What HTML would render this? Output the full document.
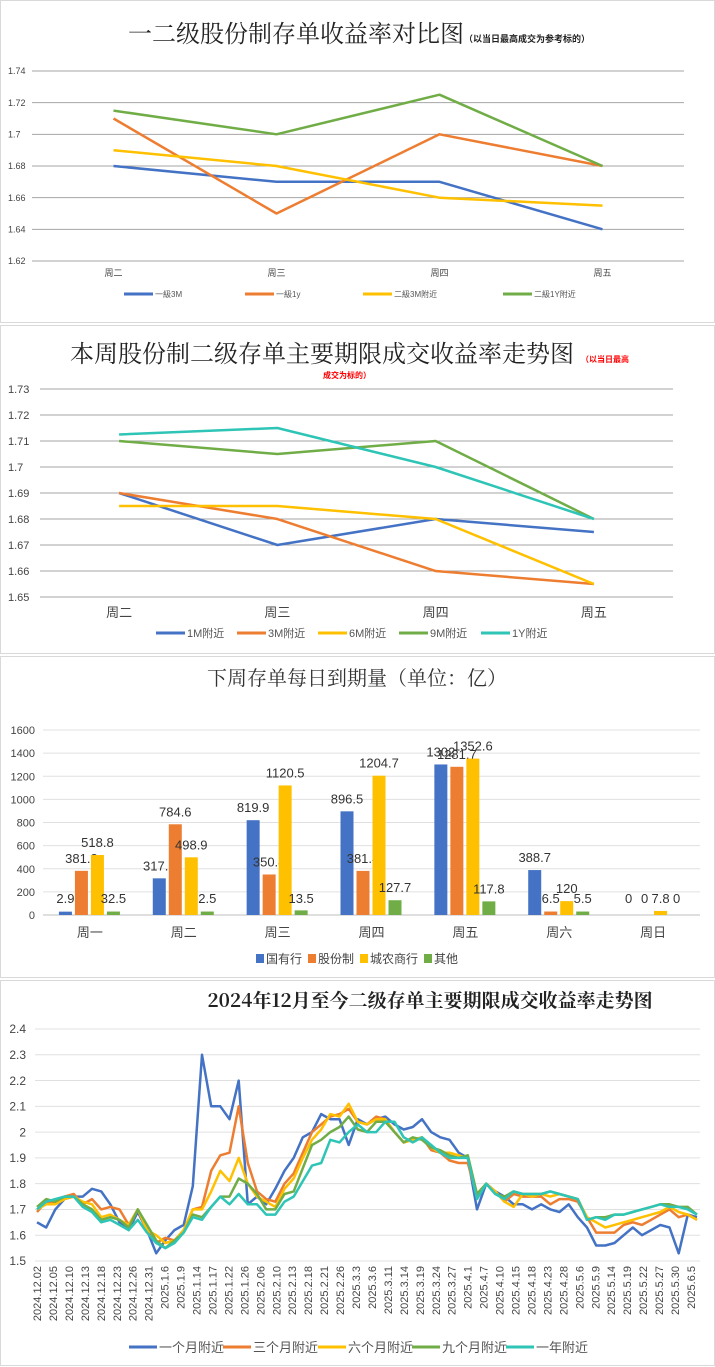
<!DOCTYPE html>
<html><head><meta charset="utf-8">
<style>
html,body{margin:0;padding:0;background:#fff;}
svg{display:block;font-family:"Liberation Sans","Noto Sans CJK SC",sans-serif;}
</style></head>
<body>
<svg id="s" width="715" height="1367" viewBox="0 0 715 1367" xmlns="http://www.w3.org/2000/svg">
<rect x="0.5" y="0.5" width="714" height="322" fill="#fff" stroke="#d9d9d9"/>
<rect x="0.5" y="325.5" width="714" height="328" fill="#fff" stroke="#d9d9d9"/>
<rect x="0.5" y="656.5" width="714" height="321" fill="#fff" stroke="#d9d9d9"/>
<rect x="0.5" y="980.5" width="714" height="385" fill="#fff" stroke="#d9d9d9"/>
<text x="128" y="42" font-size="24" fill="#222" font-family="Noto Serif CJK SC,serif">一二级股份制存单收益率对比图<tspan font-size="9" font-weight="bold" font-family="Noto Sans CJK SC,sans-serif">（以当日最高成交为参考标的）</tspan></text>
<text x="70" y="362" font-size="24" fill="#222" font-family="Noto Serif CJK SC,serif">本周股份制二级存单主要期限成交收益率走势图</text>
<text x="581" y="362" font-size="8" fill="#ff0000" font-weight="bold">（以当日最高</text>
<text x="323" y="378" font-size="8" fill="#ff0000" font-weight="bold">成交为标的）</text>
<text x="357" y="685" font-size="20" fill="#333" text-anchor="middle" font-family="Noto Serif CJK SC,serif">下周存单每日到期量（单位：亿）</text>
<text x="430" y="1007" font-size="19" fill="#222" font-weight="bold" text-anchor="middle" font-family="Noto Serif CJK SC,serif">2024年12月至今二级存单主要期限成交收益率走势图</text>
</svg>
<script>
// ---------- chart 1 data ----------
const c1Cats = ["周二","周三","周四","周五"];
const c1Names = ["一級3M","一級1y","二級3M附近","二級1Y附近"];
const c1A = [1.68,1.67,1.67,1.64];
const c1B = [1.71,1.65,1.70,1.68];
const c1C = [1.69,1.68,1.66,1.655];
const c1D = [1.715,1.70,1.725,1.68];
const c1Ticks = ["1.62","1.64","1.66","1.68","1.7","1.72","1.74"];
// ---------- chart 2 data ----------
const c2Cats = ["周二","周三","周四","周五"];
const c2Names = ["1M附近","3M附近","6M附近","9M附近","1Y附近"];
const c2A = [1.69,1.67,1.68,1.675];
const c2B = [1.69,1.68,1.66,1.655];
const c2C = [1.685,1.685,1.68,1.655];
const c2D = [1.71,1.705,1.71,1.68];
const c2E = [1.7125,1.715,1.70,1.68];
const c2Ticks = ["1.65","1.66","1.67","1.68","1.69","1.7","1.71","1.72","1.73"];
// ---------- chart 3 data ----------
const c3Cats = ["周一","周二","周三","周四","周五","周六","周日"];
const c3Names = ["国有行","股份制","城农商行","其他"];
const c3A = [29,317.1,819.9,896.5,1302,388.7,0];
const c3B = [381.8,784.6,350.4,381.4,1281.7,30,0];
const c3C = [518.8,498.9,1120.5,1204.7,1352.6,120,35];
const c3D = [30,30,40,127.7,117.8,30,0];
const c3LabA = ["2.9","317.1","819.9","896.5","1302","388.7","0"];
const c3LabB = ["381.8","784.6","350.4","381.4","1281.7","6.5","0"];
const c3LabC = ["518.8","498.9","1120.5","1204.7","1352.6","120","7.8"];
const c3LabD = ["32.5","2.5","13.5","127.7","117.8","5.5","0"];
const c3Ticks = [0,200,400,600,800,1000,1200,1400,1600];
// ---------- chart 4 data ----------
const c4Names = ["一个月附近","三个月附近","六个月附近","九个月附近","一年附近"];
const c4Dates = ["2024.12.02","2024.12.05","2024.12.10","2024.12.13","2024.12.18","2024.12.23","2024.12.26","2024.12.31","2025.1.6","2025.1.9","2025.1.14","2025.1.17","2025.1.22","2025.1.26","2025.2.06","2025.2.10","2025.2.13","2025.2.18","2025.2.21","2025.2.26","2025.3.3","2025.3.6","2025.3.11","2025.3.14","2025.3.19","2025.3.24","2025.3.27","2025.4.1","2025.4.7","2025.4.10","2025.4.15","2025.4.18","2025.4.23","2025.4.28","2025.5.6","2025.5.9","2025.5.14","2025.5.19","2025.5.22","2025.5.27","2025.5.30","2025.6.5"];
const c4Ticks = ["1.5","1.6","1.7","1.8","1.9","2","2.1","2.2","2.3","2.4"];
const c4A = [1.65,1.63,1.70,1.74,1.75,1.75,1.78,1.77,1.72,1.65,1.62,1.69,1.62,1.53,1.58,1.62,1.64,1.79,2.30,2.10,2.10,2.05,2.20,1.72,1.75,1.72,1.78,1.85,1.90,1.98,2.00,2.07,2.05,2.05,1.95,2.05,2.03,2.05,2.06,2.03,2.01,2.02,2.05,2.00,1.98,1.97,1.92,1.90,1.70,1.80,1.77,1.75,1.72,1.72,1.70,1.72,1.70,1.69,1.72,1.67,1.63,1.56,1.56,1.57,1.60,1.63,1.60,1.62,1.64,1.63,1.53,1.68,1.67];
const c4B = [1.69,1.73,1.73,1.75,1.76,1.72,1.74,1.70,1.71,1.70,1.64,1.70,1.62,1.57,1.59,1.58,1.62,1.70,1.71,1.85,1.91,1.92,2.10,1.88,1.77,1.74,1.73,1.80,1.84,1.92,2.00,2.03,2.06,2.07,2.09,2.04,2.03,2.06,2.05,2.00,1.96,1.97,1.98,1.93,1.92,1.89,1.88,1.88,1.75,1.80,1.77,1.73,1.76,1.75,1.75,1.75,1.72,1.74,1.74,1.73,1.67,1.61,1.61,1.61,1.64,1.65,1.64,1.66,1.68,1.70,1.67,1.68,1.66];
const c4C = [1.70,1.72,1.72,1.74,1.75,1.73,1.72,1.67,1.68,1.66,1.64,1.70,1.62,1.60,1.57,1.58,1.62,1.70,1.70,1.77,1.85,1.81,1.90,1.80,1.75,1.73,1.71,1.78,1.82,1.90,1.97,2.01,2.07,2.06,2.11,2.04,2.03,2.05,2.05,2.00,1.96,1.97,1.98,1.94,1.92,1.92,1.91,1.90,1.76,1.80,1.77,1.73,1.71,1.76,1.75,1.76,1.75,1.76,1.75,1.74,1.67,1.65,1.63,1.64,1.65,1.66,1.67,1.68,1.69,1.71,1.69,1.68,1.66];
const c4D = [1.71,1.74,1.73,1.75,1.75,1.72,1.70,1.66,1.67,1.66,1.63,1.70,1.64,1.58,1.55,1.58,1.61,1.68,1.67,1.71,1.75,1.75,1.82,1.80,1.76,1.70,1.70,1.76,1.77,1.86,1.95,1.97,2.00,2.02,2.06,2.01,2.00,2.04,2.04,2.00,1.96,1.98,1.97,1.94,1.93,1.91,1.90,1.91,1.76,1.80,1.76,1.75,1.77,1.76,1.76,1.76,1.77,1.76,1.75,1.74,1.66,1.67,1.67,1.68,1.68,1.69,1.70,1.71,1.72,1.72,1.71,1.71,1.68];
const c4E = [1.70,1.73,1.74,1.75,1.75,1.71,1.69,1.65,1.66,1.64,1.62,1.66,1.61,1.57,1.55,1.57,1.61,1.67,1.66,1.71,1.75,1.72,1.76,1.72,1.72,1.68,1.68,1.73,1.75,1.81,1.87,1.88,1.97,1.96,2.00,2.03,2.00,2.00,2.04,2.04,1.98,1.96,1.98,1.95,1.92,1.90,1.90,1.90,1.74,1.80,1.76,1.74,1.77,1.76,1.76,1.76,1.77,1.76,1.75,1.74,1.66,1.67,1.66,1.68,1.68,1.69,1.70,1.71,1.72,1.71,1.71,1.70,1.68];

const NS = "http://www.w3.org/2000/svg";
const svg = document.getElementById("s");
function mk(tag, attrs, txt){
  const e = document.createElementNS(NS, tag);
  for (const k in attrs) e.setAttribute(k, attrs[k]);
  if (txt !== undefined) e.textContent = txt;
  svg.appendChild(e);
  return e;
}
const BLUE="#4472c4", ORANGE="#ed7d31", YELLOW="#ffc000", GREEN="#70ad47", TEAL="#2ec4b6";

function lineChart(o){
  const ys = v => o.y0 - (v - o.vmin) / (o.vmax - o.vmin) * (o.y0 - o.y1);
  o.ticks.forEach((t) => {
    const y = ys(parseFloat(t));
    const g = mk("line",{x1:o.x0,x2:o.x1,y1:y,y2:y,stroke:o.gridColor,"stroke-width":1});
    
    
    const tl = mk("text",{x:o.tickX,y:y+o.tickFs*0.35,"font-size":o.tickFs,fill:"#444","text-anchor":o.tickAnchor},t);
    
    
  });
  const band = (o.x1 - o.x0) / o.n;
  const xs = i => o.x0 + band * (i + 0.5);
  if (o.cats) o.cats.forEach((c,i) => {
    const t = mk("text",{x:xs(i),y:o.catY,"font-size":o.catFs,fill:"#444","text-anchor":"middle"},c);
    
    
  });
  o.series.forEach((s,si) => {
    const pts = s.map((v,i) => (o.xf ? o.xf(i, s.length) : xs(i)).toFixed(1) + "," + ys(v).toFixed(1)).join(" ");
    const p = mk("polyline",{points:pts,fill:"none",stroke:o.colors[si],"stroke-width":o.lw,"stroke-linejoin":"round"});
    
    
  });
  o.legend.forEach((lx,i) => {
    const l = mk("line",{x1:lx,x2:lx+o.legW,y1:o.legY,y2:o.legY,stroke:o.colors[i],"stroke-width":3});
    
    
    const t = mk("text",{x:lx+o.legW+2,y:o.legY+o.legFs*0.38,"font-size":o.legFs,fill:"#555"},o.names[i]);
    
    
  });
}

lineChart({id:"chart1",x0:32,x1:684,y0:261,y1:71,vmin:1.62,vmax:1.74,ticks:c1Ticks,tickX:8,tickFs:9,tickAnchor:"start",
  gridColor:"#a6a6a6",n:4,cats:c1Cats,catY:276,catFs:9,series:[c1A,c1B,c1C,c1D],colors:[BLUE,ORANGE,YELLOW,GREEN],lw:2.5,
  legend:[124,245,363,503],legW:29,legY:294,legFs:8,names:c1Names});

lineChart({id:"chart2",x0:40,x1:673,y0:597,y1:389,vmin:1.65,vmax:1.73,ticks:c2Ticks,tickX:8,tickFs:11,tickAnchor:"start",
  gridColor:"#a6a6a6",n:4,cats:c2Cats,catY:617,catFs:13,series:[c2A,c2B,c2C,c2D,c2E],colors:[BLUE,ORANGE,YELLOW,GREEN,TEAL],lw:2.5,
  legend:[156,237,318,399,481],legW:29,legY:633,legFs:11,names:c2Names});

// chart 3 bars
(function(){
  const x0=43,x1=700,y0=915,y1=730,vmax=1600;
  const ys = v => y0 - v/vmax*(y0-y1);
  c3Ticks.forEach(t => {
    const y = ys(t);
    const g = mk("line",{x1:x0,x2:x1,y1:y,y2:y,stroke:t===0?"#bfbfbf":"#e0e0e0","stroke-width":1});
    
    
    const tl = mk("text",{x:35,y:y+4,"font-size":11,fill:"#444","text-anchor":"end"},String(t));
    
    
  });
  const band=(x1-x0)/c3Cats.length, bw=13;
  const offs=[-31,-15,1,17];
  const series=[c3A,c3B,c3C,c3D], labs=[c3LabA,c3LabB,c3LabC,c3LabD], cols=[BLUE,ORANGE,YELLOW,GREEN];
  c3Cats.forEach((c,i) => {
    const cx = x0 + band*(i+0.5);
    const t = mk("text",{x:cx,y:937,"font-size":13,fill:"#444","text-anchor":"middle"},c);
    
    
    series.forEach((s,si) => {
      const v = s[i];
      const bx = cx + offs[si];
      if (v > 0) {
        const r = mk("rect",{x:bx,y:ys(v),width:bw,height:y0-ys(v),fill:cols[si]});
        
        
      }
      const ly = ys(v) - 8;
      const lt = mk("text",{x:bx+bw/2,y:(v<60?y0-12:ly),"font-size":13,fill:"#333","text-anchor":"middle"},labs[si][i]);
      
      
    });
  });
  const lx=[256,308,360,424];
  c3Names.forEach((n,i) => {
    const r = mk("rect",{x:lx[i],y:954,width:8,height:9,fill:cols[i]});
    
    
    const t = mk("text",{x:lx[i]+10,y:963,"font-size":12,fill:"#444"},n);
    
    
  });
})();

// chart 4
lineChart({id:"chart4",x0:35,x1:700,y0:1261,y1:1029,vmin:1.5,vmax:2.4,ticks:c4Ticks,tickX:26,tickFs:12,tickAnchor:"end",
  gridColor:"#e0e0e0",n:1,cats:null,catY:0,catFs:0,series:[c4A,c4B,c4C,c4D,c4E],colors:[BLUE,ORANGE,YELLOW,GREEN,TEAL],lw:2.5,
  xf:(i,n)=>37+i*(697-37)/(n-1),
  legend:[129,223,318,412,506],legW:28,legY:1347,legFs:13,names:c4Names});
c4Dates.forEach((d,i) => {
  const x = 37 + i*(691-37)/(c4Dates.length-1);
  const t = mk("text",{x:0,y:0,"font-size":11,fill:"#444","text-anchor":"end",transform:"translate("+(x+4)+",1266) rotate(-90)"},d);
  
  
});
</script>
</body></html>
